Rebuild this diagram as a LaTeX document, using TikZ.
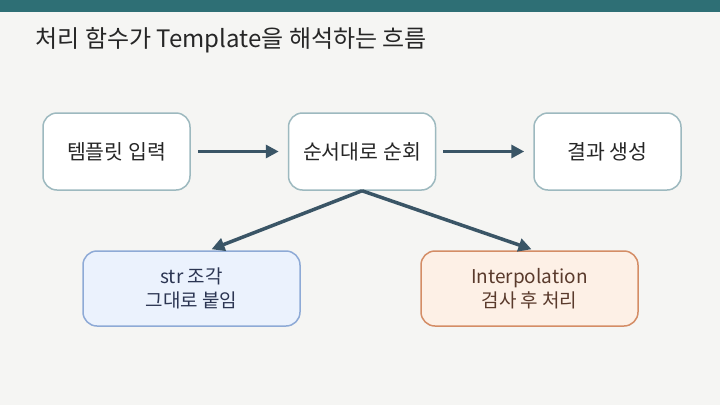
\documentclass[tikz,border=0pt]{standalone}
\usepackage{fontspec}
\setmainfont{Noto Sans CJK KR}
\usepackage{tikz}
\usetikzlibrary{arrows.meta,positioning}

\definecolor{barteal}{HTML}{2E6F75}
\definecolor{pagebg}{HTML}{F5F5F3}
\definecolor{stepedge}{HTML}{9DB9BF}
\definecolor{flowline}{HTML}{3A5566}
\definecolor{strfill}{HTML}{EBF2FD}
\definecolor{stredge}{HTML}{8EAAD6}
\definecolor{strtext}{HTML}{2B3552}
\definecolor{interfill}{HTML}{FDF0E6}
\definecolor{interedge}{HTML}{D48D66}
\definecolor{intertext}{HTML}{5A3A2C}

\begin{document}
\begin{tikzpicture}[x=1pt,y=1pt,
                    flow/.style={-{Triangle[length=13pt,width=13pt]},line width=3.5pt,
                                 draw=flowline},
                    node distance=97pt]
  \tikzstyle{stepbox}=[draw=stepedge,line width=1.5pt,fill=white,rounded corners=14pt,
                       minimum width=147pt,minimum height=77pt,text=black!85,
                       font=\fontsize{20.5}{24}\selectfont]
  \tikzstyle{pathbox}=[line width=1.5pt,rounded corners=14pt,minimum width=217pt,
                       minimum height=75pt,align=center,
                       font=\fontsize{19}{24}\selectfont]

  % background and header bar
  \fill[pagebg] (0,0) rectangle (720,-405);
  \fill[barteal] (0,0) rectangle (720,-12);
  \useasboundingbox (0,0) rectangle (720,-405);
  \node[anchor=west,text=black!85,font=\fontsize{24}{28}\selectfont]
    (title) at (32,-40) {처리 함수가 Template을 해석하는 흐름};

  \node[stepbox]                   (tin)  at (116.5,-151.5) {템플릿 입력};
  \node[stepbox,right=of tin]      (walk) {순서대로 순회};
  \node[stepbox,right=of walk]     (res)  {결과 생성};

  \node[pathbox,draw=stredge,fill=strfill,text=strtext]       (strp)
    at (191.5,-288.5) {str 조각\\그대로 붙임};
  \node[pathbox,draw=interedge,fill=interfill,text=intertext] (interp)
    at (529.5,-288.5) {Interpolation\\검사 후 처리};

  \draw[flow,shorten <=7pt,shorten >=9pt] (tin) -- (walk);
  \draw[flow,shorten <=7pt,shorten >=9pt] (walk) -- (res);
  \draw[flow] (walk.south) -- ([xshift=20pt,yshift=1pt]strp.north);
  \draw[flow] (walk.south) -- ([xshift=2pt,yshift=1pt]interp.north);

\end{tikzpicture}
\end{document}
